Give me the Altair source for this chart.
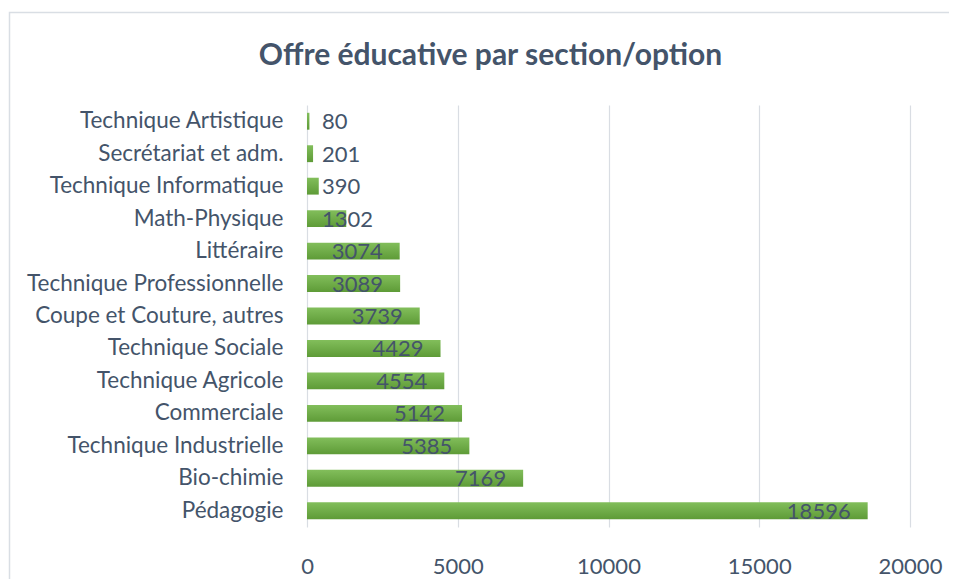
import altair as alt
import pandas as pd

categories = [
    "Technique Artistique", "Secrétariat et adm.", "Technique Informatique",
    "Math-Physique", "Littéraire", "Technique Professionnelle",
    "Coupe et Couture, autres", "Technique Sociale", "Technique Agricole",
    "Commerciale", "Technique Industrielle", "Bio-chimie", "Pédagogie",
]
values = [80, 201, 390, 1302, 3074, 3089, 3739, 4429, 4554, 5142, 5385, 7169, 18596]
x_ticks = [0, 5000, 10000, 15000, 20000]

df = pd.DataFrame({"section": categories, "value": values})

TXT = "#44546A"
FONT = "Lato"
FS = 22

W, H = 603, 422

y_enc = alt.Y("section:N", sort=categories, title=None,
              scale=alt.Scale(paddingInner=0.48, paddingOuter=0.24),
              axis=alt.Axis(domain=False, ticks=False, labelPadding=24,
                            labelFontSize=22.5, labelColor=TXT, labelFont=FONT,
                            labelLimit=400))
x_enc = alt.X("value:Q", title=None,
              scale=alt.Scale(domain=[0, 20000], nice=False),
              axis=alt.Axis(values=x_ticks, format="d", domain=False, ticks=False,
                            grid=True, gridColor="#D9DDE3", gridWidth=1.2,
                            labelFlush=False, labelPadding=29, labelFontSize=FS,
                            labelColor=TXT, labelFont=FONT))

base = alt.Chart(df)

bars = base.mark_bar(
    color=alt.Gradient(gradient="linear", x1=0, x2=0, y1=0, y2=1,
                       stops=[alt.GradientStop(color="#82BE5B", offset=0),
                              alt.GradientStop(color="#5E9B37", offset=1)])
).encode(x=x_enc, y=y_enc)

labels_in = base.transform_filter(alt.datum.value >= 2000).mark_text(
    align="right", baseline="middle", dx=-17, dy=1, fontSize=FS, font=FONT, color=TXT
).encode(x="value:Q", y=alt.Y("section:N", sort=categories), text="value:Q")

labels_out = base.transform_filter(alt.datum.value < 2000).mark_text(
    align="left", baseline="middle", dx=15, dy=1, fontSize=FS, font=FONT, color=TXT
).encode(x=alt.datum(0), y=alt.Y("section:N", sort=categories), text="value:Q")

border = alt.Chart(alt.Data(values=[{}])).mark_rect(
    fill=None, stroke="#D9DEE4", strokeWidth=1.5
).encode(x=alt.value(-297.5), x2=alt.value(W + 300),
         y=alt.value(-92.5), y2=alt.value(H + 300))

chart = alt.layer(border, bars, labels_in, labels_out).properties(
    width=W, height=H,
    autosize=alt.AutoSizeParams(type="none"),
    padding={"left": 299, "top": 97, "right": 39, "bottom": 52},
    title=alt.Title("Offre éducative par section/option", fontSize=30,
                    font=FONT, fontWeight="bold", color=TXT, anchor="middle",
                    dx=-118, offset=-59),
).configure_view(stroke=None)

chart.save("out.html", embed_options={"renderer": "svg", "actions": False})
